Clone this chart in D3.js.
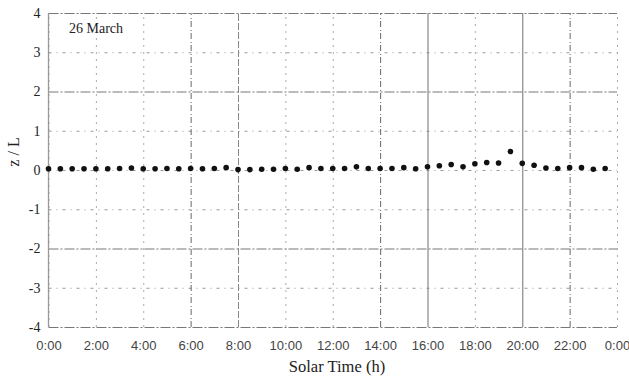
<!DOCTYPE html>
<html>
<head>
<meta charset="utf-8">
<script src="https://cdn.jsdelivr.net/npm/d3@7"></script>
<style>
  html, body { margin: 0; padding: 0; background: #fff; }
  svg { display: block; }
</style>
</head>
<body>
<svg id="chart" width="629" height="378"></svg>
<script>
// Stability parameter z/L through the day, half-hourly
const hours = [
  0, 0.5, 1, 1.5, 2, 2.5, 3, 3.5, 4, 4.5, 5, 5.5, 6, 6.5, 7, 7.5,
  8, 8.5, 9, 9.5, 10, 10.5, 11, 11.5, 12, 12.5, 13, 13.5, 14, 14.5, 15, 15.5,
  16, 16.5, 17, 17.5, 18, 18.5, 19, 19.5, 20, 20.5, 21, 21.5, 22, 22.5, 23, 23.5
];
const zOverL = [
  0.03, 0.03, 0.03, 0.03, 0.03, 0.03, 0.04, 0.05, 0.03, 0.03, 0.04, 0.03, 0.04, 0.03, 0.04, 0.06,
  0.01, 0.01, 0.02, 0.02, 0.04, 0.02, 0.06, 0.04, 0.04, 0.04, 0.08, 0.04, 0.04, 0.04, 0.06, 0.03,
  0.08, 0.11, 0.14, 0.08, 0.16, 0.19, 0.18, 0.47, 0.17, 0.12, 0.05, 0.04, 0.06, 0.06, 0.02, 0.04
];
const xTicks = [0, 2, 4, 6, 8, 10, 12, 14, 16, 18, 20, 22, 24];
const yTicks = [-4, -3, -2, -1, 0, 1, 2, 3, 4];
const dateLabel = "26 March";

const svg = d3.select("#chart");
const plotLeft = 48.5, plotRight = 617, plotTop = 13, plotBottom = 327;
const serif = "'Liberation Serif', 'Times New Roman', serif";

const x = d3.scaleLinear().domain([0, 24]).range([plotLeft, plotRight]);
const y = d3.scaleLinear().domain([-4, 4]).range([plotBottom, plotTop]);

const fmtTime = h => (h % 24) + ":00";

// horizontal grid, printed-dotted look
const gy = svg.append("g")
  .attr("transform", `translate(${plotLeft},0)`)
  .call(d3.axisLeft(y).tickValues(yTicks).tickSize(-(plotRight - plotLeft)).tickFormat(d => String(d)));
gy.select(".domain").remove();
gy.selectAll(".tick line")
  .attr("stroke", d => Math.abs(d) % 2 === 0 && d !== 0 ? "#777" : "#999")
  .attr("stroke-width", 1)
  .attr("stroke-dasharray", d => Math.abs(d) % 2 === 0 && d !== 0 ? "10,2,2,2" : "3,5,1,5");
gy.selectAll(".tick text")
  .attr("x", -8)
  .attr("font-family", serif)
  .attr("font-size", 14)
  .attr("fill", "#222");

// vertical grid
const solidHours = [16, 20];
const dashDotHours = [6, 14, 22];
const gx = svg.append("g")
  .attr("transform", `translate(0,${plotBottom})`)
  .call(d3.axisBottom(x).tickValues(xTicks).tickSize(-(plotBottom - plotTop)).tickFormat(fmtTime));
gx.select(".domain").remove();
gx.selectAll(".tick line")
  .attr("stroke", d => solidHours.includes(d) ? "#888" : dashDotHours.includes(d) ? "#666" : d === 8 ? "#888" : "#aaa")
  .attr("stroke-width", d => solidHours.includes(d) ? 1.2 : 1)
  .attr("stroke-dasharray", d => solidHours.includes(d) ? null : dashDotHours.includes(d) ? "6,2,1,3" : d === 8 ? "7,2" : "2,5");
gx.selectAll(".tick text")
  .attr("y", 14)
  .attr("font-family", "'Liberation Sans', Arial, sans-serif")
  .attr("font-size", 13)
  .attr("fill", "#444");

// left frame line
svg.append("line")
  .attr("x1", x(0)).attr("x2", x(0))
  .attr("y1", y(4)).attr("y2", y(-4))
  .attr("stroke", "#999").attr("stroke-width", 1.3);

// data points
svg.append("g").selectAll("circle")
  .data(hours.map((h, i) => [h, zOverL[i]]))
  .join("circle")
  .attr("cx", d => x(d[0]))
  .attr("cy", d => y(d[1]))
  .attr("r", 2.8)
  .attr("fill", "#111");

// date annotation
svg.append("text")
  .attr("x", 69).attr("y", 33)
  .attr("font-family", serif)
  .attr("font-size", 14)
  .attr("fill", "#222")
  .text(dateLabel);

// axis titles
svg.append("text")
  .attr("x", 337).attr("y", 372)
  .attr("text-anchor", "middle")
  .attr("font-family", serif)
  .attr("font-size", 16.5)
  .attr("fill", "#222")
  .text("Solar Time (h)");

svg.append("text")
  .attr("transform", "translate(19,152) rotate(-90)")
  .attr("text-anchor", "middle")
  .attr("font-family", serif)
  .attr("font-size", 16)
  .attr("fill", "#222")
  .text("z / L");
</script>
</body>
</html>
